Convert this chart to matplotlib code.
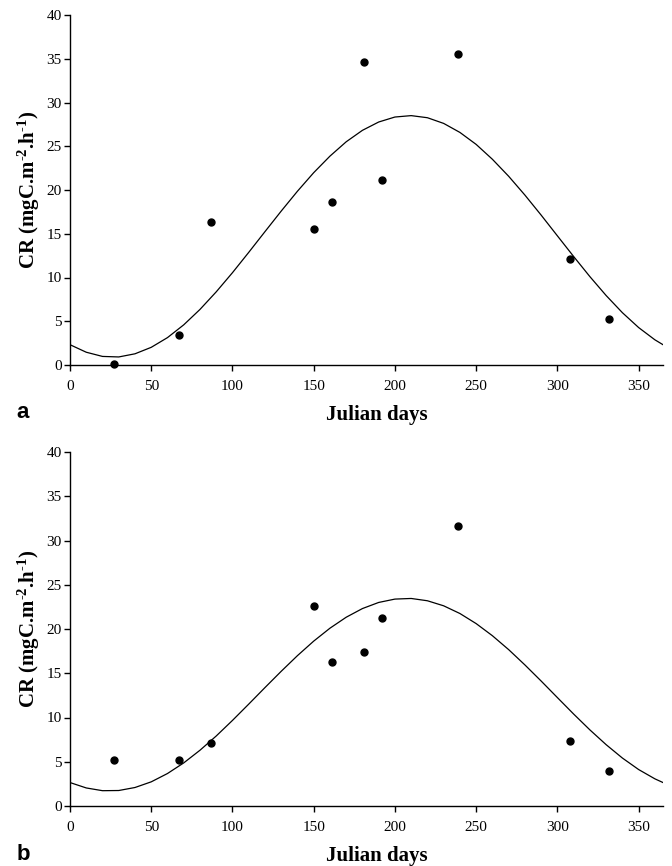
import matplotlib
matplotlib.use("Agg")
import matplotlib.pyplot as plt

days = [27, 67, 87, 150, 161, 181, 192, 239, 308, 332]
cr_a = [0.1, 3.4, 16.4, 15.6, 18.6, 34.6, 21.1, 35.6, 12.1, 5.3]
cr_b = [5.2, 5.2, 7.1, 22.6, 16.3, 17.4, 21.2, 31.6, 7.3, 3.9]

# fitted seasonal curve, read every 10 days
fit_days = [0, 10, 20, 30, 40, 50, 60, 70, 80, 90, 100, 110, 120, 130, 140,
            150, 160, 170, 180, 190, 200, 210, 220, 230, 240, 250, 260, 270,
            280, 290, 300, 310, 320, 330, 340, 350, 360, 365]
fit_a = [2.32, 1.46, 0.98, 0.92, 1.28, 2.02, 3.13, 4.59, 6.35, 8.36, 10.55,
         12.87, 15.24, 17.59, 19.86, 21.98, 23.87, 25.51, 26.82, 27.77, 28.34,
         28.50, 28.26, 27.61, 26.58, 25.21, 23.51, 21.57, 19.42, 17.13, 14.76,
         12.40, 10.10, 7.94, 5.98, 4.28, 2.88, 2.32]
fit_b = [2.65, 2.04, 1.73, 1.75, 2.09, 2.73, 3.67, 4.87, 6.30, 7.91, 9.67,
         11.51, 13.38, 15.22, 16.99, 18.63, 20.09, 21.33, 22.31, 23.00, 23.38,
         23.45, 23.19, 22.62, 21.75, 20.61, 19.24, 17.67, 15.94, 14.12, 12.25,
         10.39, 8.60, 6.93, 5.42, 4.12, 3.07, 2.65]

xticks = [0, 50, 100, 150, 200, 250, 300, 350]
yticks = [0, 5, 10, 15, 20, 25, 30, 35, 40]

plt.rcParams['font.family'] = 'Liberation Serif'
plt.rcParams['mathtext.default'] = 'regular'

fig = plt.figure(figsize=(6.72, 8.66), dpi=100)
W, H = 672.0, 866.0

panels = [
    (fit_a, cr_a, 'a', 15, 365, 413),
    (fit_b, cr_b, 'b', 452, 806, 855),
]

for fit, cr, letter, top, bottom, ly in panels:
    ax = fig.add_axes([70 / W, 1 - bottom / H, 593 / W, (bottom - top) / H])
    ax.plot(fit_days, fit, color='black', lw=0.9)
    ax.plot(days, cr, 'o', color='black', ms=5, clip_on=False)
    ax.set_xlim(0, 365)
    ax.set_ylim(0, 40)
    ax.set_xticks(xticks)
    ax.set_yticks(yticks)
    for s in ['top', 'right']:
        ax.spines[s].set_visible(False)
    for s in ['left', 'bottom']:
        ax.spines[s].set_linewidth(1.0)
    ax.tick_params(axis='x', direction='out', length=4, width=1, pad=7, labelsize=11)
    ax.tick_params(axis='y', direction='out', length=4, width=1, pad=2, labelsize=11)
    ax.set_xlabel('Julian days', fontsize=15, fontweight='bold')
    ax.xaxis.set_label_coords(0.518, -40 / (bottom - top))
    # hyphen (U+2010) rather than a math minus in the exponents
    ax.set_ylabel('CR (mgC.m$^{\u20102}$.h$^{\u20101}$)', fontsize=15, fontweight='bold')
    ax.yaxis.set_label_coords(-28 / 593, 0.5)
    fig.text(23 / W, 1 - ly / H, letter, ha='center', va='center',
             fontsize=16, fontweight='bold', family='Liberation Sans')

fig.savefig('out.png', dpi=100)
